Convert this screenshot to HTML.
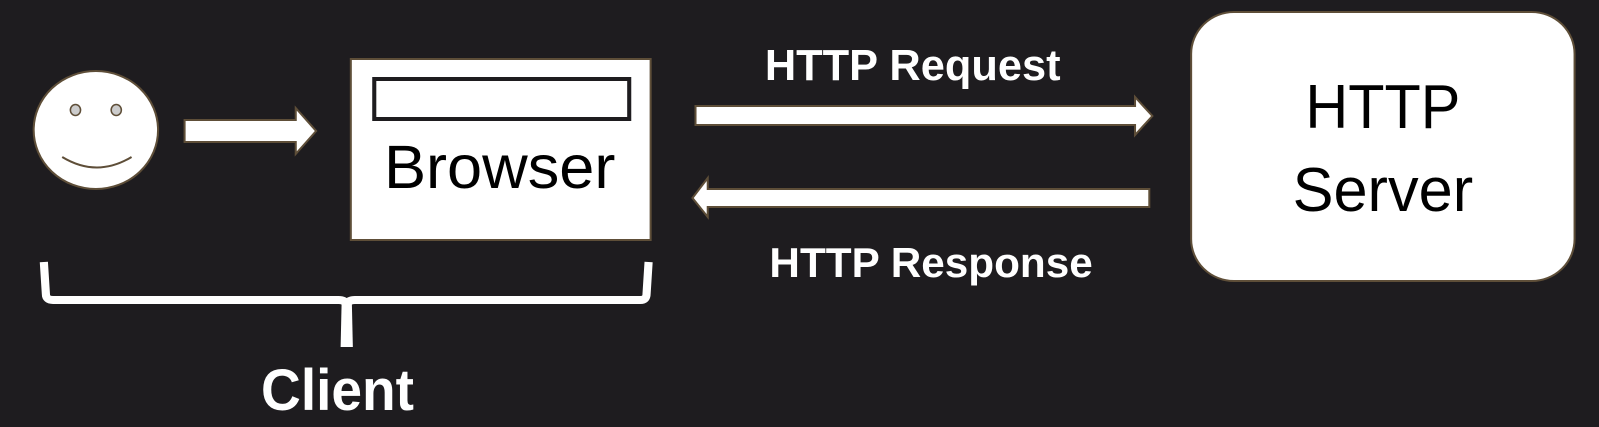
<!DOCTYPE html>
<html><head><meta charset="utf-8"><style>html,body{margin:0;padding:0;background:#1e1c1f;}svg{display:block}</style></head>
<body>
<svg width="1599" height="427" viewBox="0 0 1599 427" xmlns="http://www.w3.org/2000/svg">
<rect width="1599" height="427" fill="#1e1c1f"/>
<g transform="scale(1.0198,1)">
<!-- face -->
<ellipse cx="94" cy="130" rx="61" ry="59" fill="#fff" stroke="#5e4e38" stroke-width="2"/>
<ellipse cx="74" cy="110" rx="5" ry="5.5" fill="#ccc" stroke="#5e4e38" stroke-width="1.5"/>
<ellipse cx="114" cy="110" rx="5" ry="5.5" fill="#ccc" stroke="#5e4e38" stroke-width="1.5"/>
<path d="M61 157 Q95 178 129 157" fill="none" stroke="#5e4e38" stroke-width="2"/>
<!-- small arrow -->
<polygon points="181,120 290,120 290,108 310,131 290,154 290,142 181,142" fill="#fff" stroke="#5e4e38" stroke-width="2"/>
<!-- browser -->
<rect x="344" y="59" width="294" height="181" fill="#fff" stroke="#5e4e38" stroke-width="2"/>
<rect x="367" y="79" width="250" height="40" fill="#fff" stroke="#1e1c1f" stroke-width="4"/>
<text x="490" y="188" font-family="Liberation Sans, sans-serif" font-size="61" text-anchor="middle" textLength="227" lengthAdjust="spacingAndGlyphs" fill="#000">Browser</text>
<!-- brace -->
<path d="M43 262 L45 294 Q45 300 52 300 L332 300 Q338 300 340 304 Q342 300 348 300 L628 300 Q634 300 634 294 L636 262" fill="none" stroke="#fff" stroke-width="8"/>
<path d="M335 302 L345 302 L346 347 L334 347 Z" fill="#fff"/>
<text x="331" y="410" font-family="Liberation Sans, sans-serif" font-weight="bold" font-size="58" text-anchor="middle" textLength="150" lengthAdjust="spacingAndGlyphs" fill="#fff">Client</text>
<!-- request -->
<text x="895" y="80" font-family="Liberation Sans, sans-serif" font-weight="bold" font-size="44" text-anchor="middle" textLength="290" lengthAdjust="spacingAndGlyphs" fill="#fff">HTTP Request</text>
<polygon points="682,106 1113,106 1113,97 1130,116 1113,135 1113,125 682,125" fill="#fff" stroke="#5e4e38" stroke-width="2"/>
<!-- response -->
<polygon points="1127,189 694,189 694,178 679,198 694,217 694,207 1127,207" fill="#fff" stroke="#5e4e38" stroke-width="2"/>
<text x="913" y="277" font-family="Liberation Sans, sans-serif" font-weight="bold" font-size="42" text-anchor="middle" textLength="317" lengthAdjust="spacingAndGlyphs" fill="#fff">HTTP Response</text>
<!-- server -->
<rect x="1168" y="12" width="376" height="269" rx="42" ry="42" fill="#fff" stroke="#5e4e38" stroke-width="2"/>
<text x="1356" y="128" font-family="Liberation Sans, sans-serif" font-size="62" text-anchor="middle" textLength="152" lengthAdjust="spacingAndGlyphs" fill="#000">HTTP</text>
<text x="1356" y="211" font-family="Liberation Sans, sans-serif" font-size="62" text-anchor="middle" textLength="177" lengthAdjust="spacingAndGlyphs" fill="#000">Server</text>
</g>
</svg>
</body></html>
